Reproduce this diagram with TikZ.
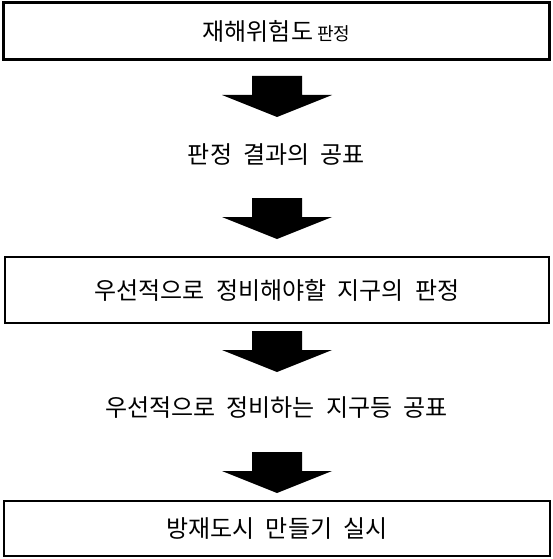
\documentclass[tikz,border=0pt]{standalone}
\usepackage{fontspec}
\setmainfont[WordSpace=2.1]{Noto Sans CJK KR}
\begin{document}
\begin{tikzpicture}[x=1pt,y=-1pt,
  stepbox/.style={draw=black,rectangle,inner sep=0pt,font=\fontsize{24}{28}\selectfont},
  plain/.style={inner sep=0pt,font=\fontsize{24}{28}\selectfont},
  blockarrow/.pic={\fill[black] (-25,0) -- (25,0) -- (25,19) -- (55,19) -- (0,41) -- (-55,19) -- (-25,19) -- cycle;}]
\useasboundingbox (0,0) rectangle (553,559);
\node[stepbox,line width=3pt,minimum width=546pt,minimum height=57pt] (b1) at (276.5,31.5) {재해위험도\hspace{4pt}{\fontsize{18}{20}\selectfont 판정}};
\pic at (277,76) {blockarrow};
\node[plain] (t2) at (276.5,155) {판정 결과의 공표};
\pic at (277,198) {blockarrow};
\node[stepbox,line width=1.3pt,minimum width=544pt,minimum height=66pt] (b3) at (277,290) {우선적으로 정비해야할 지구의 판정};
\pic at (277,331) {blockarrow};
\node[plain] (t4) at (276.5,408) {우선적으로 정비하는 지구등 공표};
\pic at (277,452) {blockarrow};
\node[stepbox,line width=1.3pt,minimum width=546pt,minimum height=55pt] (b5) at (277,528.5) {방재도시 만들기 실시};
\end{tikzpicture}
\end{document}
